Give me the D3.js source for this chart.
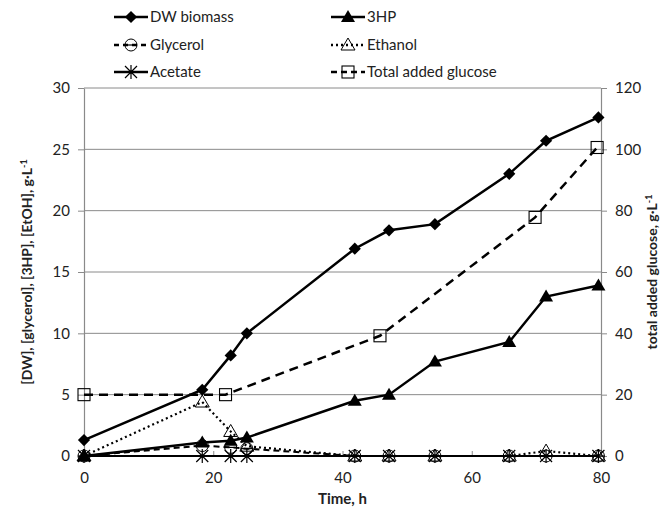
<!DOCTYPE html>
<html>
<head>
<meta charset="utf-8">
<script src="https://cdn.jsdelivr.net/npm/d3@7"></script>
<style>
  body { margin: 0; background: #fff; }
  text { font-family: Lato, "Open Sans", sans-serif; fill: #222; }
</style>
</head>
<body>
<div id="chart"></div>
<script>
// sampling times (h)
const time = [0, 18.3, 22.7, 25.2, 41.9, 47.2, 54.3, 65.8, 71.5, 79.6];
const dwBiomass = [1.3, 5.4, 8.2, 10.0, 16.9, 18.4, 18.9, 23.0, 25.7, 27.6];
const hp3 = [0, 1.1, 1.25, 1.5, 4.5, 5.0, 7.7, 9.3, 13.0, 13.9];
const glycerol = [0, 0.85, 0.7, 0.6, 0, 0, 0, 0, 0, 0];
const ethanol = [0, 4.4, 2.0, 0.8, 0, 0, 0, 0, 0.4, 0];
const acetate = [0, 0, 0, 0, 0, 0, 0, 0, 0, 0];
// glucose feed (right axis)
const glucoseTime = [0, 21.9, 45.8, 69.8, 79.4];
const glucose = [20, 20, 39.2, 77.8, 100.6];

const xTicks = [0, 20, 40, 60, 80];
const leftTicks = [0, 5, 10, 15, 20, 25, 30];
const rightTicks = [0, 20, 40, 60, 80, 100, 120];

const W = 669, H = 511;
const grey = "#8a8a8a";

const svg = d3.select("#chart").append("svg")
    .attr("width", W)
    .attr("height", H);

const x = d3.scaleLinear().domain([0, 80]).range([84, 601]);
const yL = d3.scaleLinear().domain([0, 30]).range([456, 88]);
const yR = d3.scaleLinear().domain([0, 120]).range([456, 88]);

// gridlines
svg.append("g")
    .selectAll("line")
    .data(leftTicks)
    .enter().append("line")
    .attr("x1", x(0)).attr("x2", x(80))
    .attr("y1", d => yL(d)).attr("y2", d => yL(d))
    .attr("stroke", grey).attr("stroke-width", 1);

// axes
const axisStyle = g => {
    g.select(".domain").attr("stroke", grey).attr("stroke-width", 1.2);
    g.selectAll(".tick line").attr("stroke", grey);
    g.selectAll(".tick text").style("font-size", "15px").attr("fill", "#222");
};

svg.append("g")
    .attr("transform", `translate(0,${yL(0)})`)
    .call(d3.axisBottom(x).tickValues(xTicks).tickSizeInner(-5).tickSizeOuter(0).tickPadding(16))
    .call(axisStyle);

svg.append("g")
    .attr("transform", `translate(${x(0)},0)`)
    .call(d3.axisLeft(yL).tickValues(leftTicks).tickSizeInner(6).tickSizeOuter(0).tickPadding(8))
    .call(axisStyle);

svg.append("g")
    .attr("transform", `translate(${x(80)},0)`)
    .call(d3.axisRight(yR).tickValues(rightTicks).tickSizeInner(6).tickSizeOuter(0).tickPadding(8))
    .call(axisStyle);

// titles
svg.append("text")
    .attr("x", (x(0) + x(80)) / 2).attr("y", 504)
    .attr("text-anchor", "middle")
    .style("font-size", "15px").style("font-weight", "bold")
    .text("Time, h");

const leftTitle = svg.append("text")
    .attr("transform", `translate(32,${(yL(0) + yL(30)) / 2}) rotate(-90)`)
    .attr("text-anchor", "middle")
    .style("font-size", "14px").style("font-weight", "bold");
leftTitle.append("tspan").text("[DW], [glycerol], [3HP], [EtOH], g\u00b7L");
leftTitle.append("tspan").attr("dy", -5).style("font-size", "9px").text("-1");

const rightTitle = svg.append("text")
    .attr("transform", `translate(657,${(yL(0) + yL(30)) / 2}) rotate(-90)`)
    .attr("text-anchor", "middle")
    .style("font-size", "14px").style("font-weight", "bold");
rightTitle.append("tspan").text("total added glucose, g\u00b7L");
rightTitle.append("tspan").attr("dy", -5).style("font-size", "9px").text("-1");

// marker drawing
function drawMarker(g, type) {
    if (type === "diamond") {
        g.append("path").attr("d", d3.symbol(d3.symbolDiamond2, 95)()).attr("fill", "#000");
    } else if (type === "triangle") {
        g.append("path").attr("d", "M0,-7L7,5L-7,5Z").attr("fill", "#000");
    } else if (type === "openTriangle") {
        g.append("path").attr("d", "M0,-7L7,5L-7,5Z").attr("fill", "none")
            .attr("stroke", "#000").attr("stroke-width", 1);
    } else if (type === "circle") {
        g.append("circle").attr("r", 6).attr("fill", "none").attr("stroke", "#000").attr("stroke-width", 1);
        g.append("line").attr("x1", -6).attr("x2", 6).attr("stroke", "#000").attr("stroke-width", 1.2);
    } else if (type === "star") {
        g.append("path").attr("d", "M0,-7V7M-6,-6L6,6M-6,6L6,-6")
            .attr("stroke", "#000").attr("stroke-width", 1.2).attr("fill", "none");
    } else if (type === "square") {
        g.append("rect").attr("x", -6).attr("y", -6).attr("width", 12).attr("height", 12)
            .attr("fill", "none").attr("stroke", "#000").attr("stroke-width", 1.1);
    }
}

const series = [
    { name: "Acetate", t: time, v: acetate, y: yL, marker: "star", dash: null, width: 2 },
    { name: "Glycerol", t: time, v: glycerol, y: yL, marker: "circle", dash: "6,4", width: 2 },
    { name: "Ethanol", t: time, v: ethanol, y: yL, marker: "openTriangle", dash: "2,3", width: 2.2 },
    { name: "Total added glucose", t: glucoseTime, v: glucose, y: yR, marker: "square", dash: "9,6", width: 2.5 },
    { name: "3HP", t: time, v: hp3, y: yL, marker: "triangle", dash: null, width: 2.5 },
    { name: "DW biomass", t: time, v: dwBiomass, y: yL, marker: "diamond", dash: null, width: 2.5 }
];

series.forEach(s => {
    const pts = s.t.map((t, i) => [t, s.v[i]]);
    const line = d3.line().x(d => x(d[0])).y(d => s.y(d[1]));
    svg.append("path")
        .datum(pts)
        .attr("d", line)
        .attr("fill", "none")
        .attr("stroke", "#000")
        .attr("stroke-width", s.width)
        .attr("stroke-dasharray", s.dash);
    svg.append("g").selectAll("g")
        .data(pts)
        .enter().append("g")
        .attr("transform", d => `translate(${x(d[0])},${s.y(d[1])})`)
        .each(function () { drawMarker(d3.select(this), s.marker); });
});

// legend
const legend = [
    { name: "DW biomass", marker: "diamond", dash: null, col: 0, row: 0 },
    { name: "3HP", marker: "triangle", dash: null, col: 1, row: 0 },
    { name: "Glycerol", marker: "circle", dash: "5,4", col: 0, row: 1 },
    { name: "Ethanol", marker: "openTriangle", dash: "2,3", col: 1, row: 1 },
    { name: "Acetate", marker: "star", dash: null, col: 0, row: 2 },
    { name: "Total added glucose", marker: "square", dash: "6,4", col: 1, row: 2 }
];
const colX = [114, 331], rowY = [17, 45, 72];

legend.forEach(l => {
    const g = svg.append("g").attr("transform", `translate(${colX[l.col]},${rowY[l.row]})`);
    g.append("line").attr("x1", 0).attr("x2", 34)
        .attr("stroke", "#000").attr("stroke-width", 2.5)
        .attr("stroke-dasharray", l.dash);
    drawMarker(g.append("g").attr("transform", "translate(17,0)"), l.marker);
    g.append("text").attr("x", 36).attr("y", 5)
        .style("font-size", "15px")
        .text(l.name);
});
</script>
</body>
</html>
